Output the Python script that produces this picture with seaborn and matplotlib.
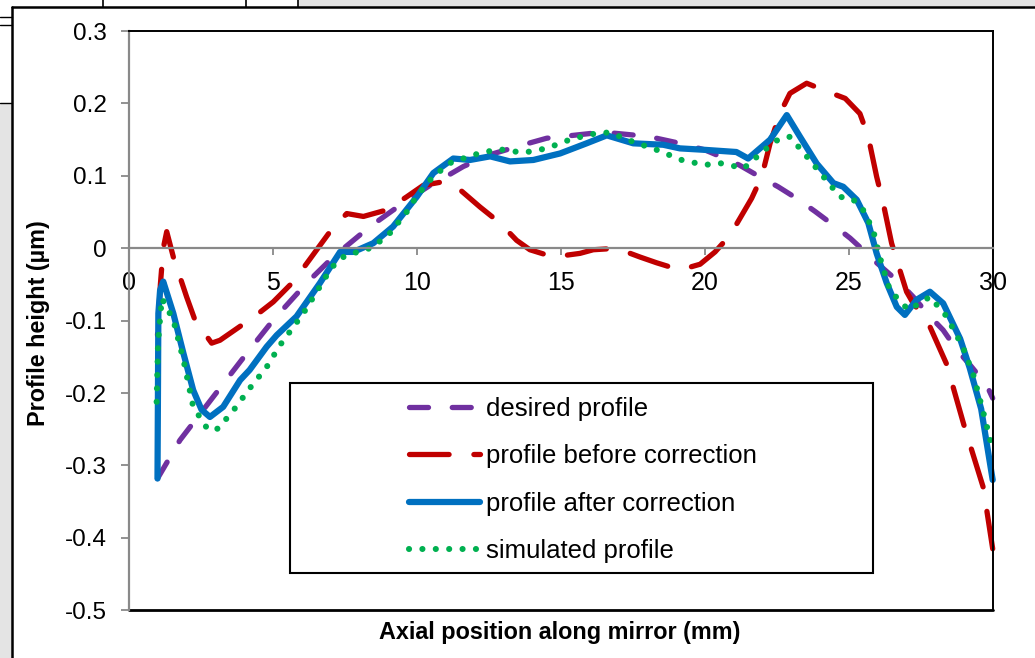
import numpy as np
import pandas as pd
import seaborn as sns
import matplotlib
matplotlib.use("Agg")
import matplotlib.pyplot as plt
from matplotlib.patches import Rectangle
from matplotlib.lines import Line2D

# ---------------- data ----------------
desired_x = [1.0, 1.78, 3.17, 4.1, 5.02, 6.18, 7.1, 8.38, 9.19, 10.0, 10.58, 10.93, 11.62, 12.6,
             13.7, 14.51, 15.2, 16.13, 16.6, 17.64, 18.33, 19.14, 20.0, 20.53, 21.2, 21.9, 22.55,
             23.19, 23.83, 24.47, 25.05, 25.6, 25.97, 26.78, 27.24, 27.82, 28.28, 28.75, 29.21,
             29.79, 30.0]
desired_y = [-0.318, -0.265, -0.193, -0.145, -0.099, -0.048, -0.012, 0.03, 0.053, 0.075, 0.09,
             0.097, 0.113, 0.13, 0.143, 0.152, 0.155, 0.159, 0.16, 0.156, 0.152, 0.145, 0.136,
             0.127, 0.115, 0.099, 0.085, 0.069, 0.051, 0.032, 0.014, -0.006, -0.02, -0.048,
             -0.067, -0.094, -0.113, -0.14, -0.161, -0.189, -0.207]

before_x = [1.0, 1.1, 1.2, 1.32, 1.55, 2.01, 2.3, 2.88, 3.17, 3.86, 4.44, 5.02, 5.72, 6.53, 6.99,
            7.57, 8.15, 8.96, 9.65, 10.23, 10.93, 11.5, 12.2, 12.89, 13.47, 13.93, 14.74, 15.67,
            16.13, 16.94, 17.75, 18.33, 19.14, 19.84, 20.36, 20.88, 21.63, 21.98, 22.27, 22.61,
            22.96, 23.54, 24.29, 24.88, 25.39, 25.68, 25.97, 26.2, 26.49, 26.72, 27.01, 27.24,
            27.75, 28.4, 29.0, 29.67, 30.0]
before_y = [-0.12, -0.05, 0.0, 0.023, -0.012, -0.067, -0.099, -0.131, -0.127, -0.108, -0.092,
            -0.074, -0.046, -0.002, 0.023, 0.048, 0.044, 0.053, 0.071, 0.087, 0.092, 0.081,
            0.057, 0.035, 0.011, -0.002, -0.012, -0.007, -0.002, 0.0, -0.012, -0.02, -0.03,
            -0.022, -0.005, 0.018, 0.069, 0.099, 0.145, 0.186, 0.214, 0.228, 0.216, 0.207,
            0.186, 0.154, 0.099, 0.062, 0.007, -0.023, -0.06, -0.076, -0.102, -0.16, -0.244,
            -0.33, -0.415]

after_x = [1.0, 1.03, 1.09, 1.2, 1.55, 1.9, 2.24, 2.53, 2.82, 3.28, 3.87, 4.2, 4.79, 5.14, 5.83,
           6.64, 7.34, 7.8, 8.49, 9.18, 10.0, 10.58, 11.27, 11.85, 12.55, 13.24, 14.05, 14.98,
           15.9, 16.6, 17.52, 18.56, 19.14, 20.0, 21.1, 21.51, 22.27, 22.85, 23.31, 23.89, 24.47,
           24.81, 25.28, 25.68, 25.97, 26.32, 26.67, 26.95, 27.36, 27.82, 28.28, 28.87, 29.2,
           29.6, 30.0]
after_y = [-0.318, -0.09, -0.058, -0.046, -0.09, -0.145, -0.196, -0.223, -0.233, -0.219, -0.182,
           -0.168, -0.136, -0.12, -0.094, -0.048, -0.005, -0.005, 0.007, 0.03, 0.071, 0.104,
           0.124, 0.122, 0.127, 0.12, 0.122, 0.131, 0.145, 0.156, 0.145, 0.143, 0.138, 0.136,
           0.133, 0.124, 0.15, 0.184, 0.154, 0.117, 0.09, 0.085, 0.067, 0.035, -0.007, -0.048,
           -0.081, -0.092, -0.071, -0.06, -0.076, -0.125, -0.165, -0.222, -0.32]

sim_x = [0.97, 1.02, 1.15, 1.55, 1.9, 2.24, 2.76, 3.11, 3.69, 4.21, 4.79, 5.25, 6.06, 6.53, 6.99,
         7.28, 7.68, 8.03, 8.49, 9.07, 9.65, 10.0, 10.46, 11.1, 11.97, 12.83, 13.7, 14.51, 15.38,
         16.25, 16.71, 17.52, 18.33, 19.2, 20.01, 20.47, 20.88, 21.34, 22.15, 22.61, 22.96,
         23.54, 24.12, 24.7, 25.1, 25.45, 25.85, 26.08, 26.43, 27.07, 27.47, 27.82, 28.4,
         28.98, 29.33, 29.67, 30.0]
sim_y = [-0.212, -0.13, -0.069, -0.099, -0.154, -0.219, -0.251, -0.249, -0.221, -0.193, -0.164,
         -0.134, -0.09, -0.06, -0.03, -0.016, -0.007, -0.005, 0.002, 0.021, 0.05, 0.072, 0.094,
         0.117, 0.129, 0.137, 0.132, 0.138, 0.151, 0.159, 0.16, 0.147, 0.136, 0.122, 0.115,
         0.118, 0.115, 0.11, 0.138, 0.152, 0.154, 0.127, 0.099, 0.071, 0.069, 0.057, 0.025,
         -0.012, -0.058, -0.085, -0.076, -0.067, -0.094, -0.138, -0.175, -0.226, -0.278]

series_labels = ["desired profile", "profile before correction",
                 "profile after correction", "simulated profile"]
x_ticks = [0, 5, 10, 15, 20, 25, 30]
y_ticks = [-0.5, -0.4, -0.3, -0.2, -0.1, 0, 0.1, 0.2, 0.3]
y_tick_labels = ["-0.5", "-0.4", "-0.3", "-0.2", "-0.1", "0", "0.1", "0.2", "0.3"]
x_label = "Axial position along mirror (mm)"
y_label = "Profile height (µm)"

# ---------------- styling ----------------
sns.set_style("white")
plt.rcParams["font.family"] = ["Liberation Sans", "DejaVu Sans"]
plt.rcParams["text.color"] = "black"
plt.rcParams["axes.labelcolor"] = "black"

W, H = 1035, 658
fig = plt.figure(figsize=(W / 100, H / 100), dpi=100, facecolor="white")

def fx(px):
    return px / W

def fy(py):
    return 1 - py / H

# background decoration (page behind the chart)
grey = "#e4e4e4"
fig.add_artist(Rectangle((fx(298), fy(7)), fx(W - 298), 7 / H, transform=fig.transFigure,
                         facecolor=grey, edgecolor="none", zorder=0))
fig.add_artist(Rectangle((0, 0), fx(12), fy(103), transform=fig.transFigure,
                         facecolor=grey, edgecolor="none", zorder=0))
for xx in [103, 246, 298]:
    fig.add_artist(Line2D([fx(xx), fx(xx)], [fy(0), fy(7)], transform=fig.transFigure,
                          color="black", lw=1.2))
for yy in [17, 25, 103]:
    fig.add_artist(Line2D([fx(0), fx(12)], [fy(yy), fy(yy)], transform=fig.transFigure,
                          color="black", lw=1.0))
fig.add_artist(Line2D([fx(12), fx(W)], [fy(7), fy(7)], transform=fig.transFigure,
                      color="black", lw=1.8))
fig.add_artist(Line2D([fx(12), fx(12)], [fy(7), fy(H)], transform=fig.transFigure,
                      color="black", lw=1.8))

ax_left, ax_right, ax_top, ax_bottom = 128.7, 992.7, 31.1, 610.3
ax = fig.add_axes([fx(ax_left), fy(ax_bottom), (ax_right - ax_left) / W,
                   (ax_bottom - ax_top) / H])
ax.set_facecolor("white")

purple = "#7030A0"
red = "#C00000"
blue = "#0070C0"
green = "#00B050"

l1 = sns.lineplot(x=desired_x, y=desired_y, ax=ax, color=purple, lw=3.8, label=series_labels[0],
                  sort=False, estimator=None, dash_capstyle="round", solid_capstyle="round").lines[-1]
l1.set_dashes([3.6, 4.5])
l2 = sns.lineplot(x=before_x, y=before_y, ax=ax, color=red, lw=3.8, label=series_labels[1],
                  sort=False, estimator=None, dash_capstyle="round", solid_capstyle="round",
                  dash_joinstyle="round").lines[-1]
l2.set_linestyle((7.2, (7.5, 4.7)))
l3 = sns.lineplot(x=after_x, y=after_y, ax=ax, color=blue, lw=4.5, label=series_labels[2],
                  sort=False, estimator=None, solid_capstyle="round", solid_joinstyle="round").lines[-1]
l4 = sns.lineplot(x=sim_x, y=sim_y, ax=ax, color=green, lw=4.4, label=series_labels[3],
                  sort=False, estimator=None, dash_capstyle="round").lines[-1]
l4.set_dashes([0.01, 2.18])
for ln in (l1, l2, l3, l4):
    ln.set_clip_on(False)

ax.set_xlim(0, 30)
ax.set_ylim(-0.5, 0.3)

axis_grey = "#898989"
for s in ["top", "right"]:
    ax.spines[s].set_color("black")
    ax.spines[s].set_linewidth(1.4)
ax.spines["left"].set_color(axis_grey)
ax.spines["left"].set_linewidth(1.6)
ax.spines["bottom"].set_position(("data", 0))
ax.spines["bottom"].set_color(axis_grey)
ax.spines["bottom"].set_linewidth(1.6)
ax.axhline(-0.5, color="black", lw=2.0, clip_on=False, zorder=2.4)

ax.set_xticks(x_ticks)
ax.set_xticklabels([str(t) for t in x_ticks])
ax.set_yticks(y_ticks)
ax.set_yticklabels(y_tick_labels)
ax.tick_params(axis="x", direction="out", length=5, width=1.3, color=axis_grey,
               labelcolor="black", labelsize=18, pad=11, bottom=True)
ax.tick_params(axis="y", direction="out", length=6, width=1.3, color=axis_grey,
               labelcolor="black", labelsize=17.5, pad=10, left=True)

ax.set_xlabel(x_label, fontsize=16.8, fontweight="bold", color="black")
ax.set_ylabel(y_label, fontsize=16.8, fontweight="bold", color="black")
ax.xaxis.label.set_verticalalignment("center")
ax.yaxis.label.set_verticalalignment("center")
ax.xaxis.set_label_coords((560 - ax_left) / (ax_right - ax_left),
                          (ax_bottom - 633) / (ax_bottom - ax_top))
ax.yaxis.set_label_coords((39 - ax_left) / (ax_right - ax_left),
                          (ax_bottom - 323) / (ax_bottom - ax_top))

# legend with its frame
ax.add_patch(Rectangle((fx(290), fy(573)), (873 - 290) / W, (573 - 383) / H,
                       transform=fig.transFigure, facecolor="white", edgecolor="black",
                       lw=1.5, zorder=4, clip_on=False))
handles, labels = ax.get_legend_handles_labels()
leg = ax.legend(handles, labels, loc="center left",
                bbox_to_anchor=(fx(409), fy(480)), bbox_transform=fig.transFigure,
                frameon=False, borderpad=0, borderaxespad=0, handlelength=2.75,
                handletextpad=0.25, labelspacing=0.91, fontsize=18.5)
leg.set_zorder(5)
leg.get_lines()[1].set_linestyle((0, (7.5, 4.7)))
for t in leg.get_texts():
    t.set_color("black")

fig.savefig("out.png", dpi=100, facecolor=fig.get_facecolor())
